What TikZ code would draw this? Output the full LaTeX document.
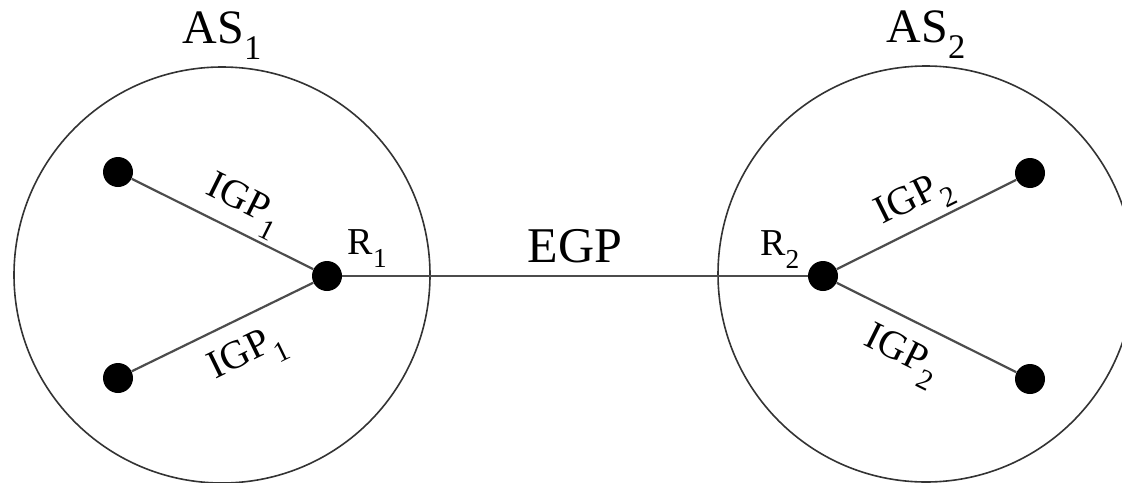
\documentclass[tikz,border=0pt]{standalone}
\usepackage{fontspec}
\setmainfont{Liberation Serif}
\usetikzlibrary{positioning}
\newcommand{\lsub}[1]{\raisebox{-0.35em}{\scalebox{0.72}{#1}}}

\begin{document}
\begin{tikzpicture}[
    x=0.5pt, y=-0.5pt,
    asys/.style={circle, draw=black!80, line width=0.8pt, minimum size=208pt, inner sep=0pt},
    host/.style={circle, fill=black, minimum size=15pt, inner sep=0pt},
    link/.style={draw=black!70, line width=1.1pt},
    aslabel/.style={font=\fontsize{24}{28}\selectfont, inner sep=0pt},
    proto/.style={font=\fontsize{20}{24}\selectfont, inner sep=0pt, sloped},
    rlabel/.style={font=\fontsize{19}{22}\selectfont, inner sep=0pt}
]
    \useasboundingbox (0,0) rectangle (1122,482);

    % autonomous systems
    \node[asys] (as1) at (222,275) {};
    \node[asys] (as2) at (926,274) {};
    \node[aslabel, above=3pt of as1.north] (as1lbl) {AS\lsub{1}};
    \node[aslabel, above=3pt of as2.north] (as2lbl) {AS\lsub{2}};

    % routers and hosts
    \node[host] (r1) at (327,276) {};
    \node[host] (r2) at (823,276) {};
    \node[host] (a1) at (118,172) {};
    \node[host] (b1) at (118,378) {};
    \node[host] (a2) at (1030,173) {};
    \node[host] (b2) at (1030,379) {};

    \node[rlabel, above right=4pt and 2.5pt of r1.east] (r1lbl) {R\lsub{1}};
    \node[rlabel, above left=3.5pt and 4pt of r2.west] (r2lbl) {R\lsub{2}};

    % links
    \draw[link] (r1) -- node[font=\fontsize{25}{30}\selectfont, inner sep=0pt, above=6pt] (egp) {EGP} (r2);
    \draw[link] (a1) -- node[proto, pos=0.55, above=2pt] (igp1a) {IGP\lsub{1}} (r1);
    \draw[link] (b1) -- node[proto, pos=0.55, below=8pt] (igp1b) {IGP\lsub{1}} (r1);
    \draw[link] (r2) -- node[proto, above=2pt] (igp2a) {IGP\lsub{2}} (a2);
    \draw[link] (r2) -- node[proto, pos=0.45, below=8pt] (igp2b) {IGP\lsub{2}} (b2);
\end{tikzpicture}
\end{document}
